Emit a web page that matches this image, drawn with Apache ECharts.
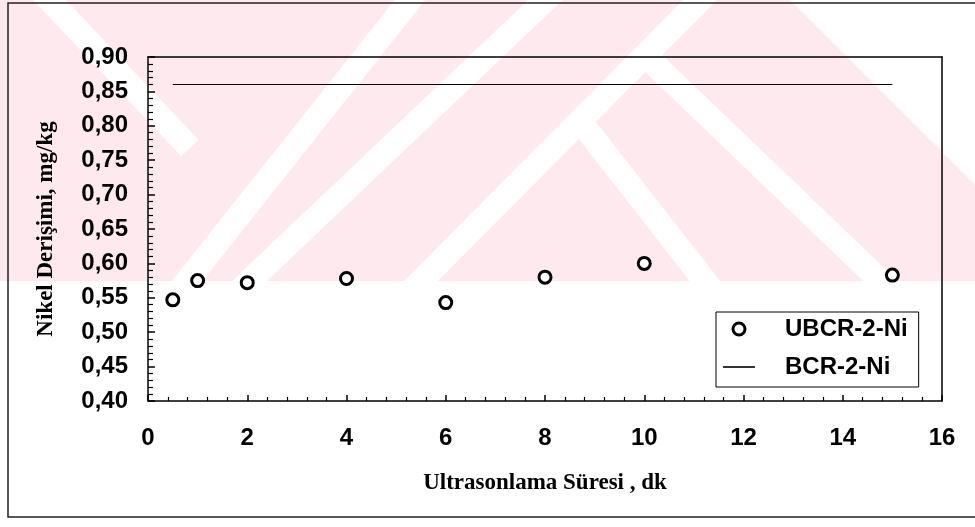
<!DOCTYPE html>
<html>
<head>
<meta charset="utf-8">
<script src="https://cdn.jsdelivr.net/npm/echarts@6/dist/echarts.min.js"></script>
<style>
  html, body { margin: 0; padding: 0; background: #ffffff; }
  #chart { width: 975px; height: 527px; }
</style>
</head>
<body>
<div id="chart"></div>
<script>
// Ultrasonic extraction time (min) and measured nickel concentration (mg/kg)
const sureler = [0.5, 1, 2, 4, 6, 8, 10, 15];
const ubcrNi = [0.547, 0.575, 0.572, 0.578, 0.543, 0.580, 0.600, 0.583];

// Certified reference value, drawn across the measured time range
const bcrSure = [0.5, 15];
const bcrNi = [0.86, 0.86];

const seriesNames = ['UBCR-2-Ni', 'BCR-2-Ni'];
const xTitle = 'Ultrasonlama Süresi , dk';
const yTitle = 'Nikel Derişimi, mg/kg';

const sansBold = { fontFamily: '"Liberation Sans", Arial, sans-serif', fontWeight: 'bold', color: '#000' };
const serifBold = { fontFamily: '"Liberation Serif", "Times New Roman", serif', fontWeight: 'bold', color: '#000' };

// Faint page watermark behind the chart
const PINK = '#fde9ee';
const stripes = [
  [[40, -10], [190, 148]],
  [[418, -10], [180, 290]],
  [[556, -10], [240, 290]],
  [[710, -10], [412, 290]],
  [[580, 121], [712, 290]],
  [[650, 60], [890, 290]]
];
const BACK = -100;
const watermark = [
  { type: 'rect', z: BACK, shape: { x: 0, y: 0, width: 975, height: 281 }, style: { fill: PINK }, silent: true },
  { type: 'polygon', z: BACK, shape: { points: [[790, 0], [975, 0], [975, 185]] }, style: { fill: '#fff' }, silent: true }
].concat(stripes.map(p => ({
  type: 'polyline', z: BACK, shape: { points: p }, style: { stroke: '#fff', lineWidth: 24, fill: null }, silent: true
}))).concat([
  { type: 'rect', z: BACK, shape: { x: 0, y: 281, width: 975, height: 246 }, style: { fill: '#fff' }, silent: true }
]);

const chart = echarts.init(document.getElementById('chart'), null, { renderer: 'canvas' });

// Axes used only to close the plot frame on the top and right
const plainAxis = {
  axisLine: { show: true, onZero: false, lineStyle: { color: '#000', width: 1.5 } },
  axisTick: { show: false }, axisLabel: { show: false }, splitLine: { show: false }
};

chart.setOption({
  animation: false,
  backgroundColor: '#ffffff',
  graphic: {
    elements: watermark.concat([
      // outer figure frame
      {
        type: 'polyline', z: 50, silent: true,
        shape: { points: [[975, 3], [8, 3], [8, 517], [975, 517]] },
        style: { stroke: '#222', lineWidth: 1.5, fill: null }
      }
    ])
  },
  grid: {
    left: 148, top: 57, width: 794, height: 344,
    outerBoundsMode: 'none', containLabel: false
  },
  legend: {
    orient: 'vertical',
    left: 716, top: 312,
    padding: [5, 11, 8, 7],
    itemGap: 14,
    itemWidth: 32, itemHeight: 12,
    borderColor: '#000', borderWidth: 1, backgroundColor: '#fff',
    textStyle: Object.assign({ fontSize: 24, lineHeight: 24, padding: [0, 0, 0, 25] }, sansBold),
    data: [
      { name: seriesNames[0], icon: 'circle', itemStyle: { color: '#fff', borderColor: '#000', borderWidth: 3 } },
      { name: seriesNames[1], icon: 'path://M0,0H32V1.6H0Z', itemStyle: { color: '#000', borderWidth: 0 } }
    ]
  },
  xAxis: [{
    type: 'value', min: 0, max: 16, interval: 2,
    name: xTitle, nameLocation: 'middle', nameGap: 71,
    nameTextStyle: Object.assign({ fontSize: 23 }, serifBold),
    axisLine: { show: true, onZero: false, lineStyle: { color: '#000', width: 1.5 } },
    axisTick: { show: true, inside: true, length: 6, lineStyle: { color: '#000', width: 1.5 } },
    minorTick: { show: true, splitNumber: 5, length: 4, lineStyle: { color: '#000', width: 1.2 } },
    splitLine: { show: false },
    axisLabel: Object.assign({ fontSize: 24, margin: 25 }, sansBold)
  }, Object.assign({ type: 'value', position: 'top', min: 0, max: 16 }, plainAxis)],
  yAxis: [{
    type: 'value', min: 0.4, max: 0.9, interval: 0.05,
    name: yTitle, nameLocation: 'middle', nameGap: 90, nameRotate: 90,
    nameTextStyle: Object.assign({ fontSize: 23 }, serifBold),
    axisLine: { show: true, onZero: false, lineStyle: { color: '#000', width: 1.5 } },
    axisTick: { show: true, inside: true, length: 7, lineStyle: { color: '#000', width: 1.5 } },
    minorTick: { show: true, splitNumber: 5, length: 5, lineStyle: { color: '#000', width: 1.2 } },
    splitLine: { show: false },
    axisLabel: Object.assign({
      fontSize: 24, margin: 20,
      formatter: v => v.toFixed(2).replace('.', ',')
    }, sansBold)
  }, Object.assign({ type: 'value', position: 'right', min: 0.4, max: 0.9 }, plainAxis)],
  series: [
    {
      name: seriesNames[0],
      type: 'scatter',
      symbol: 'circle',
      symbolSize: 12,
      itemStyle: { color: '#fff', borderColor: '#000', borderWidth: 3, opacity: 1 },
      data: sureler.map((t, i) => [t, ubcrNi[i]]),
      z: 5
    },
    {
      name: seriesNames[1],
      type: 'line',
      symbol: 'none',
      lineStyle: { color: '#000', width: 1.2 },
      itemStyle: { color: '#000' },
      data: bcrSure.map((t, i) => [t, bcrNi[i]]),
      z: 4
    }
  ]
});
</script>
</body>
</html>
